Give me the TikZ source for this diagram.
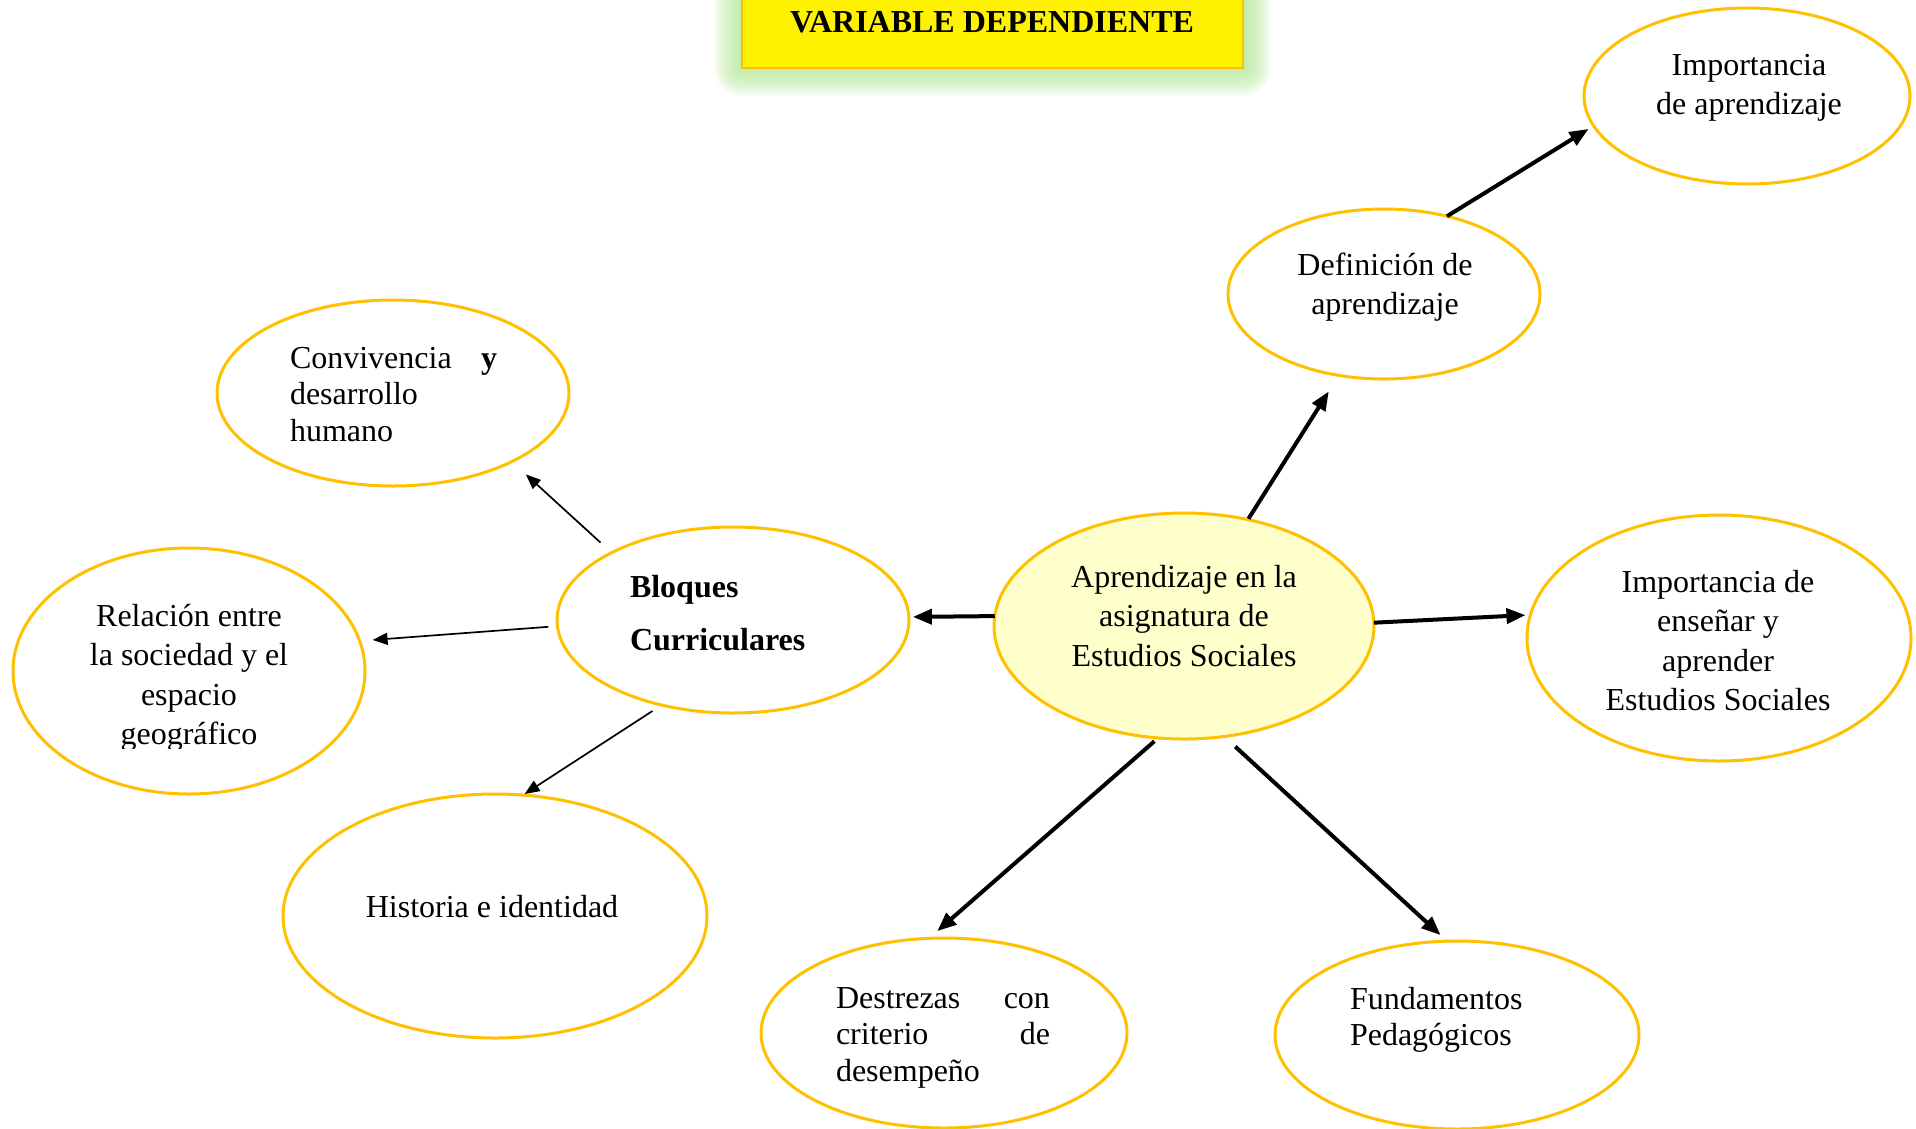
\documentclass[tikz,border=0pt]{standalone}
\usepackage{fontspec}
\setmainfont{Liberation Serif}
\usetikzlibrary{arrows.meta,shapes.geometric}
\definecolor{gold}{RGB}{255,192,0}
\definecolor{paleyellow}{RGB}{255,255,204}
\definecolor{glowgreen}{RGB}{175,228,145}
\newcommand{\ctab}[1]{\begin{tabular}[t]{@{}c@{}}#1\end{tabular}}
\newcommand{\ltab}[1]{\begin{tabular}[t]{@{}l@{}}#1\end{tabular}}
\tikzset{
  ell/.style={ellipse, draw=gold, line width=3pt, inner sep=0pt, outer sep=0pt},
  txt/.style={inner sep=0pt, outer sep=0pt, anchor=base, font=\fontsize{32}{39.5}\selectfont},
  txtl/.style={inner sep=0pt, outer sep=0pt, anchor=base west, font=\fontsize{32}{36.5}\selectfont},
  arrbig/.style={line width=4pt, -{Triangle[length=19pt,width=15pt]}},
  arrsmall/.style={line width=1.7pt, -{Triangle[length=15pt,width=12pt]}},
}
\begin{document}
\begin{tikzpicture}[x=1pt,y=-1pt]
\useasboundingbox (0,0) rectangle (1916,1128);

% title box with glow
\coordinate (gtl) at (742,-32);
\coordinate (gbr) at (1243,68);
\foreach \d in {2,4,...,28} {
  \fill[glowgreen, opacity=0.09, rounded corners=\d pt]
    ([shift={(-\d,-\d)}]gtl) rectangle ([shift={(\d,\d)}]gbr);
}
\node[draw=gold, line width=1.2pt, fill=yellow, inner sep=0pt, outer sep=0pt,
      minimum width=501pt, minimum height=100pt] (tbox) at (992.5,18) {};
\node[txt, font=\bfseries\fontsize{32}{39.5}\selectfont] (ttitle) at (992,32) {VARIABLE DEPENDIENTE};

% ellipses
\node[ell, fill=paleyellow, minimum width=380pt, minimum height=226pt] (c) at (1184,626) {};
\node[ell, minimum width=352pt, minimum height=186pt] (b) at (733,620) {};
\node[ell, minimum width=312pt, minimum height=170pt] (d) at (1384,294) {};
\node[ell, minimum width=326pt, minimum height=176pt] (i1) at (1747,96) {};
\node[ell, minimum width=384pt, minimum height=246pt] (i2) at (1719,638) {};
\node[ell, minimum width=364pt, minimum height=188pt] (f) at (1457,1035) {};
\node[ell, minimum width=366pt, minimum height=190pt] (de) at (944,1033) {};
\node[ell, minimum width=352pt, minimum height=186pt] (co) at (393,393) {};
\node[ell, minimum width=352pt, minimum height=246pt] (r) at (189,671) {};
\node[ell, minimum width=424pt, minimum height=244pt] (h) at (495,916) {};

% connectors
\draw[arrbig, shorten >=4pt] (c.177) -- (b.1);
\draw[arrbig, shorten <=1pt, shorten >=19pt] (c.59) -- (d.241);
\draw[arrbig, shorten >=6pt] (d.51) -- (i1.191);
\draw[arrbig, shorten >=5pt] (c.1) -- (i2.173);
\draw[arrbig, shorten <=5pt, shorten >=11pt] (c.257) -- (de.99);
\draw[arrbig, shorten <=15pt, shorten >=9pt] (c.290) -- (f.96);
\draw[arrsmall, shorten <=15pt, shorten >=19pt] (b.151) -- (co.330);
\draw[arrsmall, shorten <=9pt, shorten >=13pt] (b.182) -- (r.10);
\draw[arrsmall, shorten <=11pt, shorten >=2pt] (b.230) -- (h.77);

% texts
\node[txt] (tc) at (1184,587) {\ctab{Aprendizaje en la\\asignatura de\\Estudios Sociales}};
\node[txt] (td) at (1385,275) {\ctab{Definición de\\aprendizaje}};
\node[txt] (ti1) at (1749,75) {\ctab{Importancia\\de aprendizaje}};
\node[txt] (ti2) at (1718,592) {\ctab{Importancia de\\enseñar y\\aprender\\Estudios Sociales}};
\node[txtl] (tf) at (1350,1009) {\ltab{Fundamentos\\Pedagógicos}};
\node[txtl] (tde) at (836,1008) {\ltab{\makebox[214pt][s]{Destrezas\hfill con}\\\makebox[214pt][s]{criterio\hfill de}\\desempeño}};
\node[txtl] (tco) at (290,368) {\ltab{\makebox[207pt][s]{Convivencia\hfill\textbf{y}}\\desarrollo\\humano}};
\node[txtl, font=\bfseries\fontsize{32}{53}\selectfont] (tb) at (630,597) {\ltab{Bloques\\Curriculares}};
\begin{scope}
  \clip (0,0) rectangle (1916,748);
  \node[txt] (tr) at (189,626) {\ctab{Relación entre\\la sociedad y el\\espacio\\geográfico}};
\end{scope}
\node[txt] (th) at (492,917) {Historia e identidad};
\end{tikzpicture}
\end{document}
